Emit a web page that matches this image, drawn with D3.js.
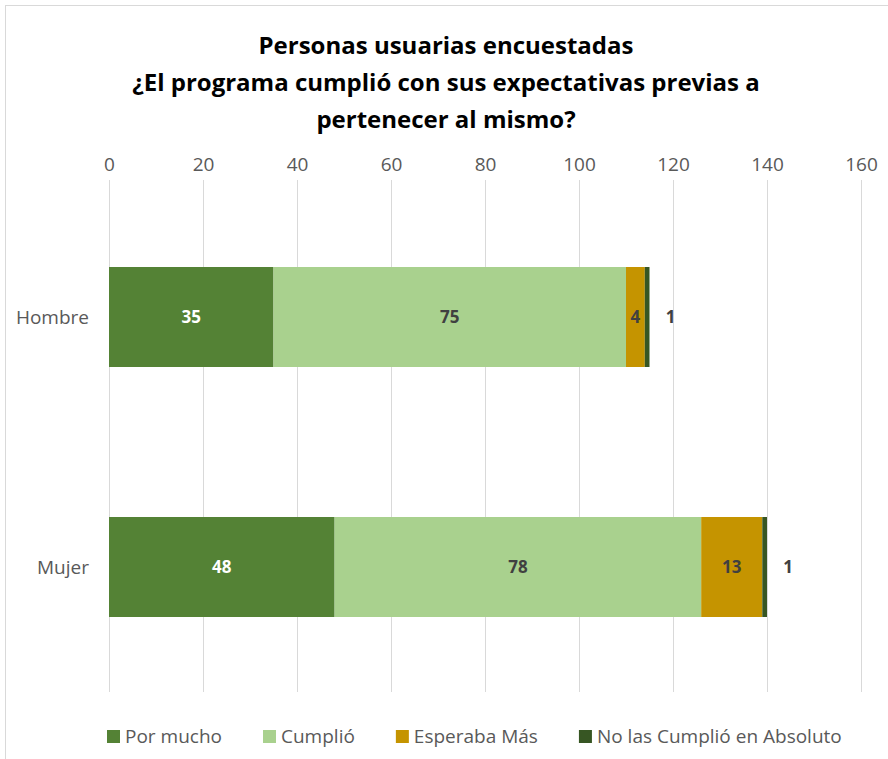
<!DOCTYPE html>
<html>
<head>
<meta charset="utf-8">
<script src="https://cdn.jsdelivr.net/npm/d3@7"></script>
<style>
  body { margin: 0; background: #fff; }
  text { font-family: "Open Sans", "DejaVu Sans", sans-serif; }
</style>
</head>
<body>
<svg id="chart" width="888" height="759"></svg>
<script>
// data
var categories = ["Hombre", "Mujer"];
var seriesNames = ["Por mucho", "Cumplió", "Esperaba Más", "No las Cumplió en Absoluto"];
var porMucho = [35, 48];
var cumplio = [75, 78];
var esperabaMas = [4, 13];
var noCumplio = [1, 1];
var xTicks = [0, 20, 40, 60, 80, 100, 120, 140, 160];
var titleLines = ["Personas usuarias encuestadas", "¿El programa cumplió con sus expectativas previas a", "pertenecer al mismo?"];

var colors = ["#548235", "#a9d18e", "#c59400", "#375623"];
var labelColors = ["#ffffff", "#404040", "#404040", "#404040"];

var svg = d3.select("#chart");

// chart border (only top and left visible in the reference)
svg.append("rect").attr("x", 5.5).attr("y", 5.5).attr("width", 920).attr("height", 800)
  .attr("fill", "none").attr("stroke", "#d9d9d9");

// title
svg.append("g").selectAll("text").data(titleLines).enter().append("text")
  .attr("x", 446).attr("y", function (d, i) { return 54 + i * 37; })
  .attr("text-anchor", "middle").attr("font-size", 24).attr("font-weight", "bold")
  .attr("fill", "#000").text(function (d) { return d; });

var margin = { left: 109, right: 861, top: 192, bottom: 692 };
var x = d3.scaleLinear().domain([0, 160]).range([margin.left, margin.right]);
var y = d3.scaleBand().domain(categories).range([margin.top, margin.bottom]).paddingInner(0.6).paddingOuter(0.3);

// gridlines
svg.append("g").selectAll("line").data(xTicks).enter().append("line")
  .attr("x1", function (d) { return x(d) + 0.5; }).attr("x2", function (d) { return x(d) + 0.5; })
  .attr("y1", 180).attr("y2", margin.bottom)
  .attr("stroke", "#d9d9d9").attr("stroke-width", 1);

// top axis labels
var axis = svg.append("g").attr("transform", "translate(0,164)")
  .call(d3.axisTop(x).tickValues(xTicks).tickSize(0).tickPadding(0));
axis.select(".domain").remove();
axis.selectAll("text").attr("font-size", 19).attr("fill", "#595959").attr("dy", "0.35em")
  .attr("font-family", "'Open Sans', sans-serif");

// category labels
svg.append("g").selectAll("text").data(categories).enter().append("text")
  .attr("x", 89).attr("y", function (d) { return y(d) + y.bandwidth() / 2; })
  .attr("dy", "0.35em").attr("text-anchor", "end").attr("font-size", 19).attr("fill", "#595959")
  .text(function (d) { return d; });

// stacked bars
var rows = categories.map(function (c, i) {
  return { cat: c, s0: porMucho[i], s1: cumplio[i], s2: esperabaMas[i], s3: noCumplio[i] };
});
var stack = d3.stack().keys(["s0", "s1", "s2", "s3"]);
var layers = stack(rows);

var layerG = svg.append("g").selectAll("g").data(layers).enter().append("g")
  .attr("fill", function (d, i) { return colors[i]; });

layerG.selectAll("rect").data(function (d) { return d; }).enter().append("rect")
  .attr("x", function (d) { return x(d[0]); })
  .attr("width", function (d) { return x(d[1]) - x(d[0]); })
  .attr("y", function (d) { return y(d.data.cat); })
  .attr("height", y.bandwidth());

// data labels
layers.forEach(function (layer, li) {
  svg.append("g").selectAll("text").data(layer).enter().append("text")
    .attr("x", function (d) {
      // last tiny segment gets its label outside, to the right of the bar
      if (li === 3) return x(d[1]) + 21;
      return (x(d[0]) + x(d[1])) / 2;
    })
    .attr("y", function (d) { return y(d.data.cat) + y.bandwidth() / 2; })
    .attr("dy", "0.35em").attr("text-anchor", "middle")
    .attr("font-size", 17).attr("font-weight", "bold")
    .attr("fill", labelColors[li])
    .text(function (d) { return d[1] - d[0]; });
});

// legend
var legend = svg.append("g").attr("transform", "translate(0,736)");
var lx = 107;
seriesNames.forEach(function (name, i) {
  var item = legend.append("g").attr("transform", "translate(" + lx + ",0)");
  item.append("rect").attr("x", 0).attr("y", -6).attr("width", 13).attr("height", 13).attr("fill", colors[i]);
  var t = item.append("text").attr("x", 18).attr("dy", "0.35em").attr("font-size", 19)
    .attr("fill", "#595959").text(name);
  lx += 18 + t.node().getComputedTextLength() + 41;
});
</script>
</body>
</html>
